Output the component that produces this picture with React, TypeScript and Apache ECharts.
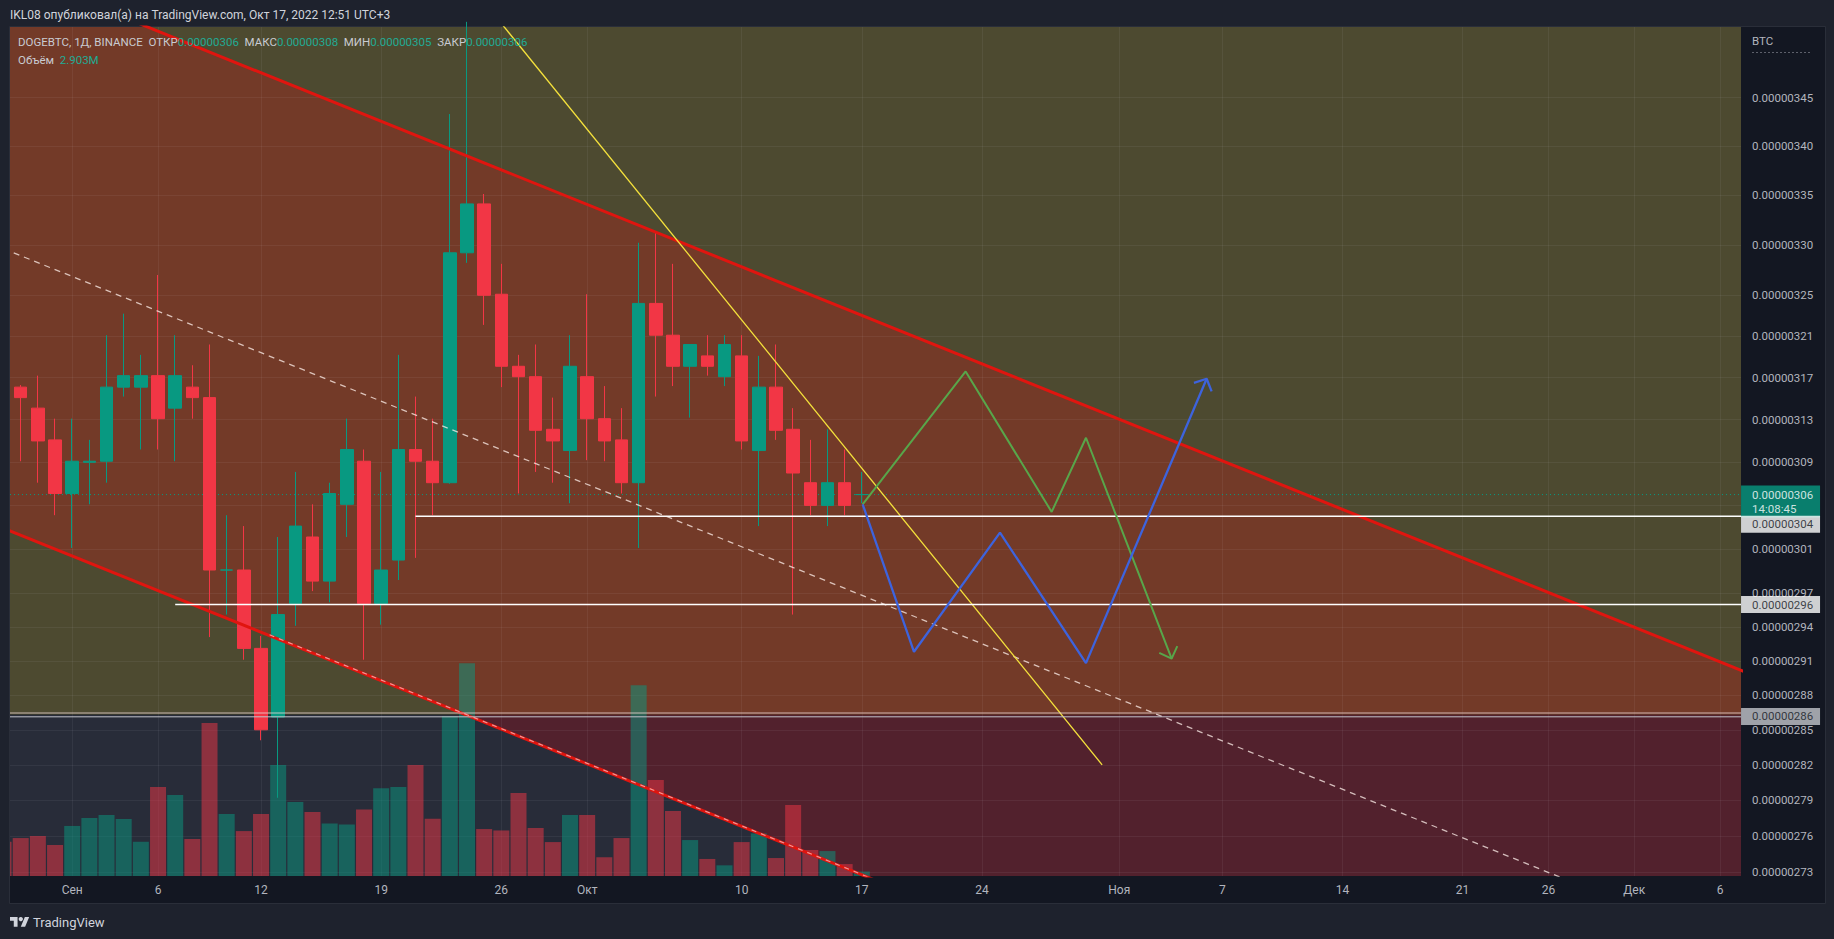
import React, { useEffect, useRef } from "react";
import * as echarts from "echarts";

// ---------- DATA (day index 0 = 1 Sep 2022, prices in 1e-8 BTC) ----------
const days = [-4, -3, -2, -1, 0, 1, 2, 3, 4, 5, 6, 7, 8, 9, 10, 11, 12, 13, 14, 15, 16, 17, 18, 19, 20, 21, 22, 23, 24, 25, 26, 27, 28, 29, 30, 31, 32, 33, 34, 35, 36, 37, 38, 39, 40, 41, 42, 43, 44, 45, 46];
const opens = [317.2, 316.1, 314.1, 311.1, 306.1, 309.0, 309.1, 316.1, 316.1, 317.2, 314.1, 316.1, 315.1, 299.1, 299.1, 292.1, 286.1, 296.1, 302.1, 298.1, 305.1, 309.1, 296.1, 300.0, 310.2, 309.1, 307.1, 329.2, 334.1, 325.1, 318.1, 317.1, 312.1, 310.1, 317.1, 313.1, 311.1, 307.1, 324.2, 321.1, 318.1, 319.1, 317.1, 319.1, 310.1, 316.1, 312.1, 307.1, 305.0, 307.1, 306.0];
const closes = [316.1, 315.1, 311.0, 306.1, 309.1, 309.1, 316.1, 317.2, 317.2, 313.1, 317.2, 315.1, 299.1, 299.1, 292.1, 285.0, 295.1, 303.1, 298.1, 306.1, 310.2, 296.1, 299.1, 310.2, 309.1, 307.1, 329.2, 334.1, 325.0, 318.1, 317.1, 312.0, 311.0, 318.1, 313.1, 311.0, 307.1, 324.2, 321.1, 318.1, 320.2, 318.1, 320.2, 311.0, 316.1, 312.0, 308.0, 305.0, 307.1, 305.0, 306.0];
const lows = [314.5, 309.1, 307.1, 304.1, 301.1, 305.1, 307.1, 315.2, 310.2, 310.2, 309.1, 313.1, 293.1, 295.1, 291.1, 284.1, 279.2, 294.1, 297.2, 296.2, 302.1, 291.1, 294.2, 298.2, 300.2, 304.1, 307.0, 328.2, 322.1, 316.1, 306.1, 308.1, 307.1, 305.2, 309.2, 309.1, 306.1, 301.1, 315.2, 316.2, 313.2, 317.2, 316.2, 310.2, 303.1, 311.1, 295.1, 304.1, 303.1, 304.1, 305.2];
const highs = [318.5, 316.3, 317.2, 313.1, 313.1, 311.1, 321.1, 323.2, 319.2, 327.0, 321.1, 318.2, 320.2, 304.1, 303.1, 293.2, 302.1, 308.1, 305.1, 307.1, 313.1, 310.2, 308.1, 319.2, 315.2, 313.1, 343.3, 353.0, 335.1, 328.1, 319.2, 320.2, 315.1, 321.1, 325.1, 316.2, 314.1, 330.2, 331.2, 328.1, 320.2, 321.1, 321.1, 321.1, 319.1, 320.2, 314.1, 311.1, 312.1, 310.2, 308.1];
const volumes = [22.1, 24.5, 25.8, 20.0, 32.3, 37.4, 39.4, 36.8, 22.1, 57.4, 52.3, 23.9, 98.7, 40.0, 29.0, 40.0, 71.6, 47.7, 41.3, 33.9, 33.2, 43.0, 56.6, 57.4, 71.6, 37.0, 103.2, 137.4, 30.3, 29.4, 53.5, 31.0, 21.9, 39.4, 39.4, 12.1, 24.5, 123.2, 61.9, 41.9, 23.2, 11.0, 6.9, 21.9, 27.5, 11.6, 45.8, 16.8, 16.1, 7.7, 2.9];

// grid levels of the log price scale; 305 sits under the last-price tag
const priceTicks = [345, 340, 335, 330, 325, 321, 317, 313, 309, 305, 301, 297, 294, 291, 288, 285, 282, 279, 276, 273];
const priceLabelTicks = [345, 340, 335, 330, 325, 321, 317, 313, 309, 301, 297, 294, 291, 288, 285, 282, 279, 276, 273];
const dateTicks = [0, 5, 11, 18, 25, 30, 39, 46, 53, 61, 67, 74, 81, 86, 91, 96];
const dateLabels = ["Сен", "6", "12", "19", "26", "Окт", "10", "17", "24", "Ноя", "7", "14", "21", "26", "Дек", "6"];

const dayRange = [-3.624, 97.22];
const priceRange = [272.68, 352.45];

// drawings: [day, price]
const channelUpper = [[-4, 358.7], [98, 289.7]];
const channelLower = [[-4, 302.9], [60, 264.9]];
const channelMid = [[-4, 329.6], [98, 266.2]];
const lowerOverlay = [[11.5, 293.3], [60, 264.9]];
const yellowLine = [[24, 355.1], [60, 282.0]];
const greenPath = [[46.05, 305.1], [52.05, 317.6], [57.06, 304.4], [59.06, 311.3], [64.05, 291.2]];
const greenArrow = [[63.33, 291.7], [64.05, 291.2], [64.38, 292.3]];
const bluePath = [[46.05, 305.1], [49.04, 291.8], [54.05, 302.5], [59.06, 290.8], [66.09, 316.9]];
const blueArrow = [[65.35, 316.5], [66.09, 316.9], [66.38, 315.7]];
const level304 = [[20, 304], [97.22, 304]];
const level296 = [[6, 296], [97.22, 296]];
const floorFill = 286.3;
const floorLineA = 286.45;
const floorLineB = 286.12;
const lastPrice = 306;
const lastTime = "14:08:45";
const volMax = 548;

const FONT = 'Roboto, "Noto Sans", sans-serif';
const UP = "#089981";
const DOWN = "#f23645";

const TV_LOGO = "M14 22H7V11H0V4h14v18zM28 22h-8l7.5-18h8L28 22z";
let registered = false;
function registerLogo() {
  if (registered) return;
  registered = true;
  echarts.graphic.registerShape("tvlogo", echarts.graphic.extendPath(TV_LOGO, {}) as any);
}

function clipPoly(poly: number[][], x0: number, y0: number, x1: number, y1: number) {
  const planes: [number, number, boolean][] = [[0, x0, true], [0, x1, false], [1, y0, true], [1, y1, false]];
  let out = poly;
  for (const [ax, b, ge] of planes) {
    const input = out;
    out = [];
    if (!input.length) break;
    const inside = (p: number[]) => (ge ? p[ax] >= b : p[ax] <= b);
    const inter = (p: number[], q: number[]) => {
      const t = (b - p[ax]) / (q[ax] - p[ax]);
      return [p[0] + t * (q[0] - p[0]), p[1] + t * (q[1] - p[1])];
    };
    for (let i = 0; i < input.length; i++) {
      const cur = input[i];
      const prev = input[(i + input.length - 1) % input.length];
      const ci = inside(cur);
      const pi = inside(prev);
      if (ci) {
        if (!pi) out.push(inter(prev, cur));
        out.push(cur);
      } else if (pi) out.push(inter(prev, cur));
    }
  }
  return out;
}

const L = Math.log;
const pts = (a: number[][]) => a.map((p) => [p[0], L(p[1])]);

function lineSeries(data: number[][], color: string, width: number, type: any = "solid", z = 4) {
  return {
    type: "line",
    data: pts(data),
    showSymbol: false,
    symbol: "none",
    silent: true,
    z,
    lineStyle: { color, width, type },
  };
}

function tag(price: number, text: string, bg: string, fg: string, dy: number, lineHeight = 13) {
  return {
    type: "scatter",
    data: [[dayRange[1], L(price)]],
    symbol: "circle",
    symbolSize: 0.1,
    itemStyle: { color: "rgba(0,0,0,0)" },
    clip: false,
    silent: true,
    z: 6,
    label: {
      show: true,
      position: "right",
      distance: 0,
      offset: [0, dy],
      formatter: text,
      backgroundColor: bg,
      color: fg,
      fontFamily: FONT,
      fontSize: 11.5,
      lineHeight,
      width: 68,
      padding: [2, 0, 2, 11],
      align: "left",
    },
  };
}

export default function App() {
  const ref = useRef<HTMLDivElement>(null);
  useEffect(() => {
    document.body.style.margin = "0";
    registerLogo();
    const chart = echarts.init(ref.current!, null, { renderer: "svg" });

    const candleData = days.map((d, i) => [d, L(opens[i]), L(closes[i]), L(lows[i]), L(highs[i])]);
    const volData = days.map((d, i) => {
      const up = closes[i] > opens[i] || (closes[i] === opens[i] && (i === 0 || closes[i - 1] <= closes[i]));
      return { value: [d, volumes[i]], itemStyle: { color: up ? "rgba(8,153,129,0.5)" : "rgba(242,54,69,0.5)" } };
    });

    const bgSeries = {
      type: "custom",
      silent: true,
      z: 0,
      data: [[0, L(300)]],
      renderItem: (params: any, api: any) => {
        const cs = params.coordSys;
        const x0 = cs.x, y0 = cs.y, x1 = cs.x + cs.width, y1 = cs.y + cs.height;
        const yF = api.coord([0, L(floorFill)])[1];
        const up = channelUpper.map((p) => api.coord([p[0], L(p[1])]));
        const lo = channelLower.map((p) => api.coord([p[0], L(p[1])]));
        const ext = (q: number[][], x: number) => {
          const t = (x - q[0][0]) / (q[1][0] - q[0][0]);
          return [x, q[0][1] + t * (q[1][1] - q[0][1])];
        };
        const xa = x0 - 50, xb = x1 + 50;
        const chan = [ext(up, xa), ext(up, xb), ext(lo, xb), ext(lo, xa)];
        const top = clipPoly(chan, x0, y0, x1, yF);
        const bot = clipPoly(chan, x0, yF, x1, y1);
        return {
          type: "group",
          children: [
            { type: "rect", shape: { x: x0, y: y0, width: x1 - x0, height: yF - y0 }, style: { fill: "#4d4a30" } },
            { type: "rect", shape: { x: x0, y: yF, width: x1 - x0, height: y1 - yF }, style: { fill: "#282c39" } },
            { type: "polygon", shape: { points: top }, style: { fill: "#733a28" } },
            { type: "polygon", shape: { points: bot }, style: { fill: "#52212d" } },
          ],
        };
      },
    };

    const option: any = {
      animation: false,
      backgroundColor: "transparent",
      grid: { left: 10, top: 27, width: 1731, height: 849, show: false, outerBoundsMode: "none" },
      xAxis: {
        type: "value",
        min: dayRange[0],
        max: dayRange[1],
        z: 1,
        axisLine: { show: false },
        axisTick: { show: false, customValues: dateTicks },
        splitLine: { show: true, lineStyle: { color: "rgba(240,243,250,0.06)", width: 1 } },
        axisLabel: {
          customValues: dateTicks,
          hideOverlap: false,
          margin: 8,
          color: "#b2b5be",
          fontSize: 12,
          fontFamily: FONT,
          formatter: (v: number) => {
            const k = dateTicks.indexOf(Math.round(v));
            return k >= 0 ? dateLabels[k] : "";
          },
        },
      },
      yAxis: [
        {
          type: "value",
          position: "right",
          min: L(priceRange[0]),
          max: L(priceRange[1]),
          z: 1,
          axisLine: { show: false },
          axisTick: { show: false, customValues: priceTicks.map(L) },
          splitLine: { show: true, lineStyle: { color: "rgba(240,243,250,0.06)", width: 1 } },
          axisLabel: {
            customValues: priceLabelTicks.map(L),
            hideOverlap: false,
            margin: 11,
            color: "#b2b5be",
            fontSize: 11.5,
            fontFamily: FONT,
            formatter: (v: number) => (Math.exp(v) / 1e8).toFixed(8),
          },
        },
        { type: "value", min: 0, max: volMax, show: false, splitLine: { show: false } },
      ],
      graphic: [
        { type: "rect", z: -100, silent: true, shape: { x: 9.5, y: 26.5, width: 1816, height: 877 }, style: { fill: "#131722", stroke: "#2a2e39", lineWidth: 1 } },
        { type: "rect", z: 100, silent: true, shape: { x: 0, y: 26, width: 9.5, height: 879 }, style: { fill: "#1e222d" } },
        { type: "line", z: 100, silent: true, shape: { x1: 9.5, y1: 26.5, x2: 9.5, y2: 903.5 }, style: { stroke: "#2a2e39", lineWidth: 1 } },
        { type: "text", x: 10, y: 15, silent: true, style: { text: "IKL08 опубликовал(а) на TradingView.com, Окт 17, 2022 12:51 UTC+3", fill: "#d1d4dc", fontSize: 12, fontFamily: FONT, verticalAlign: "middle" } },
        {
          type: "text", x: 18, y: 42, z: 10, silent: true,
          style: {
            text: "{l|DOGEBTC, 1Д, BINANCE  ОТКР}{v|0.00000306}{l|  МАКС}{v|0.00000308}{l|  МИН}{v|0.00000305}{l|  ЗАКР}{v|0.00000306}",
            verticalAlign: "middle",
            rich: {
              l: { fill: "#c9cbd1", fontSize: 11.5, fontFamily: FONT },
              v: { fill: "#22ab94", fontSize: 11.5, fontFamily: FONT },
            },
          },
        },
        {
          type: "text", x: 18, y: 59.5, z: 10, silent: true,
          style: {
            text: "{l|Объём  }{v|2.903M}",
            verticalAlign: "middle",
            rich: {
              l: { fill: "#c9cbd1", fontSize: 11.5, fontFamily: FONT },
              v: { fill: "#22ab94", fontSize: 11.5, fontFamily: FONT },
            },
          },
        },
        { type: "text", x: 1752, y: 41, silent: true, style: { text: "BTC", fill: "#b2b5be", fontSize: 11.5, fontFamily: FONT, verticalAlign: "middle" } },
        { type: "line", silent: true, shape: { x1: 1752, y1: 52.5, x2: 1812, y2: 52.5 }, style: { stroke: "#5d606b", lineWidth: 1, lineDash: [2, 2] } },
        { type: "tvlogo", x: 10, y: 914.8, scaleX: 0.54, scaleY: 0.54, silent: true, style: { fill: "#d1d4dc" } },
        { type: "circle", silent: true, shape: { cx: 10 + 20 * 0.54, cy: 914.8 + 8 * 0.54, r: 4 * 0.54 }, style: { fill: "#d1d4dc" } },
        { type: "text", x: 33, y: 922, silent: true, style: { text: "TradingView", fill: "#d1d4dc", fontSize: 13, fontFamily: FONT, verticalAlign: "middle" } },
      ],
      series: [
        bgSeries,
        {
          type: "bar",
          yAxisIndex: 1,
          data: volData,
          barWidth: 16,
          silent: true,
          z: 2,
        },
        {
          type: "candlestick",
          data: candleData,
          barWidth: 13,
          silent: true,
          z: 3,
          itemStyle: { color: UP, color0: DOWN, borderColor: UP, borderColor0: DOWN, borderWidth: 1 },
        },
        lineSeries([[dayRange[0], lastPrice], [dayRange[1], lastPrice]], UP, 1, [1, 3], 3),
        lineSeries(channelUpper, "#e0150f", 3),
        lineSeries(channelLower, "#e0150f", 3),
        lineSeries(lowerOverlay, "rgba(255,235,235,0.6)", 1.2, [5, 5]),
        lineSeries(channelMid, "rgba(255,240,235,0.75)", 1.3, [6, 5]),
        lineSeries(yellowLine, "#f5e23c", 1.3),
        lineSeries(level304, "#ffffff", 1.3),
        lineSeries(level296, "#ffffff", 1.3),
        lineSeries([[dayRange[0], floorLineA], [dayRange[1], floorLineA]], "rgba(235,215,215,0.8)", 1),
        lineSeries([[dayRange[0], floorLineB], [dayRange[1], floorLineB]], "#c3c5cc", 1),
        lineSeries(greenPath, "#58a64a", 2),
        lineSeries(greenArrow, "#58a64a", 2),
        lineSeries(bluePath, "#3d63dd", 2.3),
        lineSeries(blueArrow, "#3d63dd", 2.3),
        tag(lastPrice, "0.00000306\n" + lastTime, UP, "#ffffff", 7, 14),
        tag(304, "0.00000304", "#ffffff", "#131722", 8),
        tag(296, "0.00000296", "#ffffff", "#131722", 0),
        tag(286.15, "0.00000286", "#c3c5cc", "#131722", 0),
      ],
    };
    chart.setOption(option);
    return () => chart.dispose();
  }, []);
  return (
    <div
      ref={ref}
      style={{ position: "absolute", left: 0, top: 0, width: 1834, height: 939, background: "#1e222d" }}
    />
  );
}
